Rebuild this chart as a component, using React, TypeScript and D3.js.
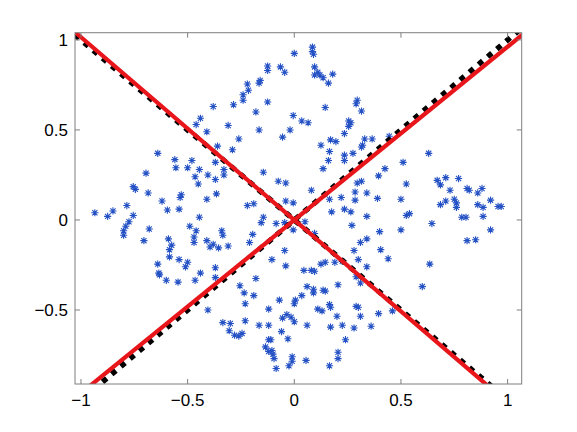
import { useRef, useEffect } from "react";
import * as d3 from "d3";

// scatter of star markers (x, y)
const starPoints: [number, number][] = [
  [-0.38, 0.63], [-0.44, 0.565], [-0.46, 0.53], [-0.41, 0.49], [-0.36, 0.41],
  [-0.64, 0.37], [-0.56, 0.335], [-0.48, 0.33], [-0.37, 0.32], [-0.555, 0.29],
  [-0.5, 0.29], [-0.445, 0.28], [-0.33, 0.28], [-0.695, 0.26], [-0.465, 0.24],
  [-0.405, 0.25], [-0.37, 0.225], [-0.33, 0.25], [-0.45, 0.2], [-0.755, 0.185],
  [-0.745, 0.17], [-0.685, 0.15], [-0.53, 0.14], [-0.535, 0.125], [-0.365, 0.145],
  [-0.41, 0.115], [-0.62, 0.105], [-0.785, 0.08], [-0.595, 0.055], [-0.54, 0.06],
  [-0.85, 0.05], [-0.935, 0.04], [-0.875, 0.02], [-0.755, 0.025], [-0.775, -0.01],
  [-0.79, -0.035], [-0.8, -0.06], [-0.8, -0.085], [-0.68, -0.05], [-0.705, -0.115],
  [-0.445, 0.015], [-0.49, -0.035], [-0.46, -0.06], [-0.47, -0.095], [-0.47, -0.125],
  [-0.59, -0.105], [-0.575, -0.14], [-0.585, -0.165], [-0.585, -0.205], [-0.54, -0.22],
  [-0.5, -0.235], [-0.51, -0.26], [-0.64, -0.245], [-0.635, -0.295], [-0.632, -0.305],
  [-0.6, -0.335], [-0.545, -0.345], [-0.44, -0.295], [-0.465, -0.335], [-0.41, -0.115],
  [-0.395, -0.15], [-0.38, -0.135], [-0.355, -0.155], [-0.34, -0.06], [-0.335, -0.085],
  [-0.37, -0.265], [-0.37, -0.32], [-0.405, -0.5], [-0.335, -0.57],
  [0.085, 0.96], [0.085, 0.935], [0.09, 0.92], [0.0, 0.925], [0.095, 0.85],
  [-0.125, 0.855], [-0.125, 0.83], [-0.065, 0.85], [-0.045, 0.82], [0.095, 0.805],
  [0.11, 0.82], [0.12, 0.805], [0.135, 0.79], [0.18, 0.81], [0.16, 0.76],
  [-0.22, 0.755], [-0.215, 0.72], [-0.16, 0.775], [-0.165, 0.76], [-0.24, 0.695],
  [-0.24, 0.665], [-0.285, 0.64], [-0.125, 0.655], [0.145, 0.625], [0.295, 0.665],
  [0.29, 0.645], [0.315, 0.605], [-0.18, 0.6], [-0.005, 0.58], [0.035, 0.55],
  [0.065, 0.54], [0.255, 0.55], [0.265, 0.54], [0.255, 0.52], [-0.31, 0.525],
  [-0.165, 0.5], [-0.02, 0.5], [0.235, 0.48], [-0.055, 0.46], [-0.26, 0.45],
  [0.17, 0.445], [0.195, 0.435], [0.33, 0.45], [0.315, 0.405], [0.32, 0.415],
  [0.125, 0.415], [-0.29, 0.39], [0.165, 0.38], [0.275, 0.37], [0.235, 0.36],
  [0.235, 0.33], [0.16, 0.33], [0.135, 0.285], [-0.145, 0.265], [-0.075, 0.215],
  [-0.04, 0.205], [0.295, 0.205], [0.315, 0.215], [0.08, 0.165], [0.34, 0.15],
  [0.285, 0.155], [0.22, 0.125], [0.285, 0.11], [0.165, 0.115], [-0.04, 0.105],
  [-0.005, 0.095], [-0.22, 0.08], [-0.19, 0.09], [0.235, 0.06],
  [0.365, 0.45], [0.445, 0.465], [0.63, 0.37], [0.425, 0.285], [0.51, 0.32],
  [0.395, 0.245], [0.525, 0.2], [0.67, 0.22], [0.685, 0.195], [0.71, 0.235],
  [0.77, 0.23], [0.73, 0.165], [0.81, 0.175], [0.82, 0.165], [0.86, 0.15],
  [0.88, 0.175], [0.92, 0.11], [0.39, 0.12], [0.5, 0.115], [0.75, 0.115],
  [0.76, 0.095], [0.76, 0.07], [0.685, 0.085], [0.71, 0.105], [0.86, 0.085],
  [0.885, 0.07], [0.955, 0.075], [0.97, 0.075],
  [0.525, 0.025], [0.54, 0.035], [0.645, -0.02], [0.4, -0.065], [0.5, -0.055],
  [0.785, 0.015], [0.805, 0.015], [0.885, 0.02], [0.92, -0.055], [0.81, -0.115],
  [0.85, -0.11], [0.405, -0.165], [0.44, -0.215], [0.635, -0.245], [0.6, -0.37],
  [0.395, -0.52], [0.46, -0.505], [0.36, -0.59],
  [-0.145, 0.015], [-0.155, -0.015], [-0.085, -0.02], [-0.045, -0.015], [0.05, -0.01],
  [-0.005, -0.055], [-0.195, -0.08], [-0.21, -0.125], [-0.31, -0.145], [0.095, -0.075],
  [0.175, 0.045], [0.265, 0.045], [0.34, 0.02], [0.27, -0.03], [0.31, -0.125],
  [0.34, -0.105], [0.28, -0.17], [-0.045, -0.17], [-0.105, -0.22], [-0.04, -0.255],
  [0.125, -0.245], [0.145, -0.235], [0.19, -0.235], [0.225, -0.23], [0.3, -0.22],
  [0.34, -0.26], [0.29, -0.315], [0.31, -0.35], [0.045, -0.28], [0.08, -0.28],
  [0.095, -0.285], [-0.18, -0.325], [-0.255, -0.365], [-0.235, -0.405], [-0.19, -0.42],
  [0.205, -0.36], [0.06, -0.37], [0.09, -0.385], [0.09, -0.405], [0.135, -0.39],
  [0.145, -0.395], [0.035, -0.42], [0.005, -0.445], [0.0, -0.465], [-0.07, -0.445],
  [-0.23, -0.465], [0.165, -0.47], [0.17, -0.485], [0.11, -0.495], [0.13, -0.505],
  [-0.12, -0.495], [0.29, -0.48], [0.3, -0.485], [0.2, -0.535], [0.31, -0.535],
  [-0.035, -0.525], [-0.055, -0.545], [-0.015, -0.54], [0.0, -0.565], [-0.23, -0.56],
  [-0.3, -0.575], [-0.165, -0.585], [-0.12, -0.585], [0.06, -0.585], [0.17, -0.595],
  [0.225, -0.585], [0.28, -0.6], [-0.305, -0.615], [-0.28, -0.64], [-0.26, -0.645],
  [-0.245, -0.63], [-0.06, -0.62], [-0.03, -0.66], [-0.12, -0.665], [-0.11, -0.665],
  [0.24, -0.665], [-0.135, -0.705], [-0.12, -0.73], [-0.105, -0.725], [-0.1, -0.745],
  [0.205, -0.735], [0.205, -0.77], [-0.01, -0.76], [-0.01, -0.785], [-0.025, -0.81],
  [-0.095, -0.77], [0.055, -0.78], [-0.085, -0.825], [0.165, -0.81],
];

// lines through the origin, given as slopes
const blackSlopes = [-1.0, 1.0];
const redSlopes = [-1.015, 0.962];

const xTicks = [-1, -0.5, 0, 0.5, 1];
const yTicks = [-0.5, 0, 0.5, 1];
const xDomain = [-1.028, 1.066];
const yDomain = [-0.911, 1.04];

const fmt = (v: number) => String(v).replace("-", "\u2212");

const App = () => {
  const svgRef = useRef<SVGSVGElement>(null);

  useEffect(() => {
    const svg = d3.select(svgRef.current);
    svg.selectAll("*").remove();

    const left = 75, right = 521.7, top = 32.7, bottom = 384;
    const x = d3.scaleLinear().domain(xDomain).range([left, right]);
    const y = d3.scaleLinear().domain(yDomain).range([bottom, top]);

    svg
      .append("defs")
      .append("clipPath")
      .attr("id", "plotclip")
      .append("rect")
      .attr("x", left)
      .attr("y", top)
      .attr("width", right - left)
      .attr("height", bottom - top);

    const plot = svg.append("g").attr("clip-path", "url(#plotclip)");

    // star markers
    const r = 3.6;
    const d = r * 0.72;
    const star = `M${-r},0L${r},0M0,${-r}L0,${r}M${-d},${-d}L${d},${d}M${-d},${d}L${d},${-d}`;
    plot
      .append("g")
      .selectAll("path")
      .data(starPoints)
      .join("path")
      .attr("transform", (p) => `translate(${x(p[0])},${y(p[1])})`)
      .attr("d", star)
      .attr("fill", "none")
      .attr("stroke", "#2451c4")
      .attr("stroke-width", 1.1);

    const line = d3
      .line<number[]>()
      .x((p) => x(p[0]))
      .y((p) => y(p[1]));
    const ends = [-1.2, 1.2];

    plot
      .selectAll("path.black")
      .data(blackSlopes)
      .join("path")
      .attr("class", "black")
      .attr("d", (s) => line(ends.map((v) => [v, s * v])))
      .attr("fill", "none")
      .attr("stroke", "#000")
      .attr("stroke-width", 5.5)
      .attr("stroke-dasharray", "5.5,6.5");

    plot
      .selectAll("path.red")
      .data(redSlopes)
      .join("path")
      .attr("class", "red")
      .attr("d", (s) => line(ends.map((v) => [v, s * v])))
      .attr("fill", "none")
      .attr("stroke", "#e8161b")
      .attr("stroke-width", 4.2);

    // axes box
    const axisColor = "#7f7f7f";
    svg
      .append("rect")
      .attr("x", left)
      .attr("y", top)
      .attr("width", right - left)
      .attr("height", bottom - top)
      .attr("fill", "none")
      .attr("stroke", axisColor)
      .attr("stroke-width", 1);

    const tl = 5;
    const g = svg.append("g").attr("stroke", axisColor).attr("stroke-width", 1);
    xTicks.forEach((t) => {
      g.append("line").attr("x1", x(t)).attr("x2", x(t)).attr("y1", bottom).attr("y2", bottom - tl);
      g.append("line").attr("x1", x(t)).attr("x2", x(t)).attr("y1", top).attr("y2", top + tl);
    });
    yTicks.forEach((t) => {
      g.append("line").attr("y1", y(t)).attr("y2", y(t)).attr("x1", left).attr("x2", left + tl);
      g.append("line").attr("y1", y(t)).attr("y2", y(t)).attr("x1", right).attr("x2", right - tl);
    });

    const font = "'Liberation Sans', Arial, sans-serif";
    svg
      .append("g")
      .selectAll("text")
      .data(xTicks)
      .join("text")
      .attr("x", (t) => x(t))
      .attr("y", bottom + 22)
      .attr("text-anchor", "middle")
      .attr("font-family", font)
      .attr("font-size", 17)
      .attr("fill", "#000")
      .text(fmt);

    svg
      .append("g")
      .selectAll("text")
      .data(yTicks)
      .join("text")
      .attr("x", left - 7)
      .attr("y", (t) => y(t) + 6)
      .attr("text-anchor", "end")
      .attr("font-family", font)
      .attr("font-size", 17)
      .attr("fill", "#000")
      .text(fmt);
  }, []);

  return (
    <svg
      ref={svgRef}
      width={577}
      height={432}
      style={{ position: "absolute", left: 0, top: 0, background: "#fff" }}
    ></svg>
  );
};

export default App;
